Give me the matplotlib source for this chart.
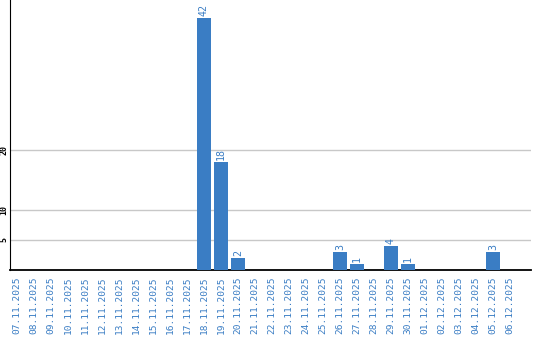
import matplotlib
matplotlib.use('Agg')
import matplotlib.pyplot as plt

# Data
dates = ['07.11.2025', '08.11.2025', '09.11.2025', '10.11.2025', '11.11.2025',
         '12.11.2025', '13.11.2025', '14.11.2025', '15.11.2025', '16.11.2025',
         '17.11.2025', '18.11.2025', '19.11.2025', '20.11.2025', '21.11.2025',
         '22.11.2025', '23.11.2025', '24.11.2025', '25.11.2025', '26.11.2025',
         '27.11.2025', '28.11.2025', '29.11.2025', '30.11.2025', '01.12.2025',
         '02.12.2025', '03.12.2025', '04.12.2025', '05.12.2025', '06.12.2025']
counts = [0, 0, 0, 0, 0, 0, 0, 0, 0, 0,
          0, 42, 18, 2, 0, 0, 0, 0, 0, 3,
          1, 0, 4, 1, 0, 0, 0, 0, 3, 0]
yticks = [5, 10, 20]

blue = '#3a7dc4'
plt.rcParams['font.family'] = 'DejaVu Sans Mono'

fig = plt.figure(figsize=(5.4, 3.4), dpi=100)
ax = fig.add_axes([10/540, 70/340, 521/540, 270/340])

x = list(range(len(dates)))
ax.bar(x, counts, width=0.82, color=blue, zorder=3)

# value labels above non-zero bars
for i, v in enumerate(counts):
    if v > 0:
        ax.text(i, v + 0.4, str(v), rotation=90, ha='center', va='bottom',
                color=blue, fontsize=7.2)

ax.set_xlim(-0.41, 30.24)
ax.set_ylim(0, 45)
ax.set_xticks(x)
ax.set_xticklabels(dates, rotation=90, color=blue, fontsize=6.8)
ax.set_yticks(yticks)
ax.set_yticklabels([str(t) for t in yticks], rotation=90, fontsize=6,
                   va='center', fontweight='bold')
ax.tick_params(length=0)
ax.tick_params(axis='x', pad=5)
ax.tick_params(axis='y', pad=1)

ax.grid(axis='y', color='#c8c8c8', linewidth=1, zorder=0)
for s in ['top', 'right']:
    ax.spines[s].set_visible(False)
ax.spines['left'].set_color('black')
ax.spines['bottom'].set_color('black')
ax.spines['bottom'].set_linewidth(1.3)

fig.savefig('out.png', dpi=100)
